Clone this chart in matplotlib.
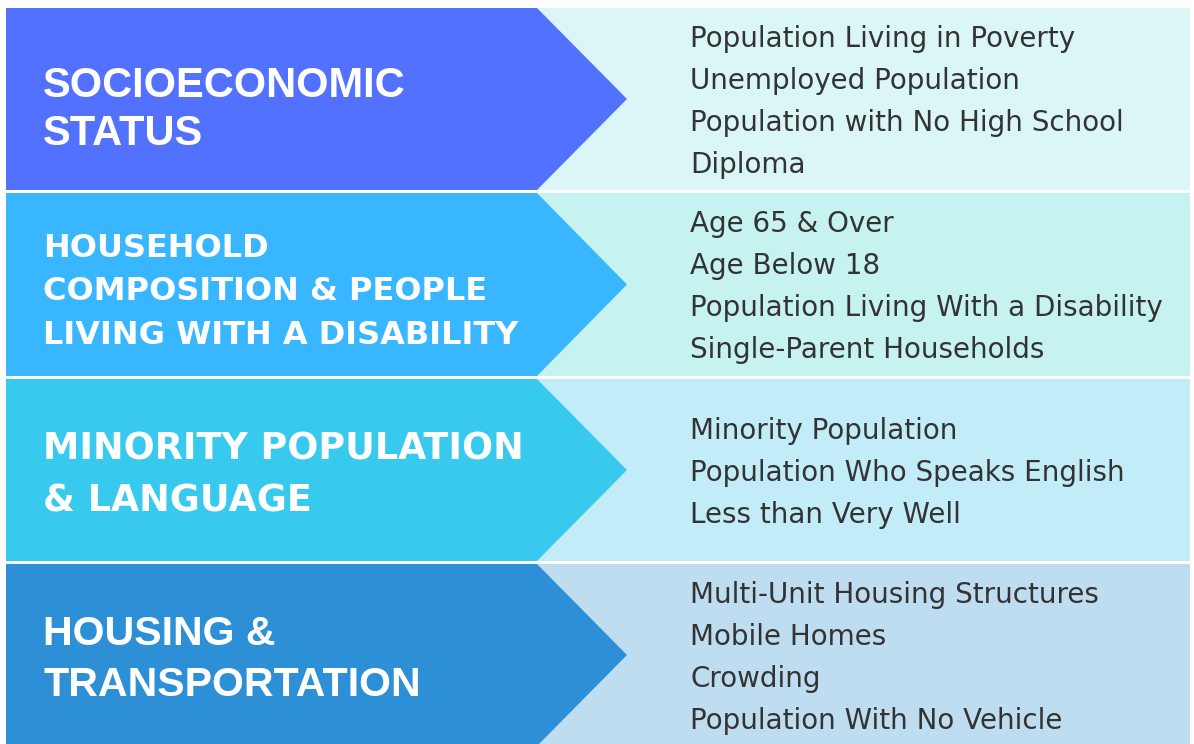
import matplotlib
matplotlib.use("Agg")
import matplotlib.pyplot as plt
from matplotlib.patches import Polygon, Rectangle
from matplotlib import font_manager

# categories (left bands) and the indicators listed on the right
categories = [
    ["SOCIOECONOMIC", "STATUS"],
    ["HOUSEHOLD", "COMPOSITION & PEOPLE", "LIVING WITH A DISABILITY"],
    ["MINORITY POPULATION", "& LANGUAGE"],
    ["HOUSING &", "TRANSPORTATION"],
]
indicators = [
    ["Population Living in Poverty", "Unemployed Population",
     "Population with No High School", "Diploma"],
    ["Age 65 & Over", "Age Below 18",
     "Population Living With a Disability", "Single-Parent Households"],
    ["Minority Population", "Population Who Speaks English",
     "Less than Very Well"],
    ["Multi-Unit Housing Structures", "Mobile Homes", "Crowding",
     "Population With No Vehicle"],
]
band_colors = ["#5271FF", "#38B6FF", "#38C9EF", "#2D8FD5"]
panel_colors = ["#DAF6F7", "#C6F2F0", "#C3ECF9", "#BEDDF0"]

names = {f.name for f in font_manager.fontManager.ttflist}
narrow = "Liberation Sans Narrow" if "Liberation Sans Narrow" in names else "Liberation Sans"
head_fonts = [narrow, "DejaVu Sans", "DejaVu Sans", narrow]
head_sizes = [30, 23, 26.3, 29.6]
head_base = [97, 257, 459, 645]     # baseline of the first heading line
head_step = [48, 43.5, 52, 51]

W, H = 1194, 744
fig = plt.figure(figsize=(W / 100, H / 100), dpi=100)
ax = fig.add_axes([0, 0, 1, 1])
ax.set_xlim(0, W)
ax.set_ylim(H, 0)
ax.axis("off")

row_top = [8, 193, 379, 564]
row_bot = [190, 376, 561, 746]
x0, xb, xt, x1 = 6, 537, 627, 1190

for i in range(4):
    t, b = row_top[i], row_bot[i]
    mid = (t + b) / 2
    ax.add_patch(Rectangle((xb, t), x1 - xb, b - t, color=panel_colors[i], lw=0))
    ax.add_patch(Polygon([(x0, t), (xb, t), (xt, mid), (xb, b), (x0, b)],
                         closed=True, color=band_colors[i], lw=0))

    for j, s in enumerate(categories[i]):
        ax.text(43, head_base[i] + j * head_step[i], s, color="white",
                fontsize=head_sizes[i], fontweight="bold", family=head_fonts[i],
                va="baseline", ha="left")

    items = indicators[i]
    istep = 42
    iy = mid - istep * (len(items) - 1) / 2 + 11
    for j, s in enumerate(items):
        ax.text(690, iy + j * istep, s, color="#333333", fontsize=20,
                family="DejaVu Sans", va="baseline", ha="left")

fig.savefig("out.png", dpi=100)
